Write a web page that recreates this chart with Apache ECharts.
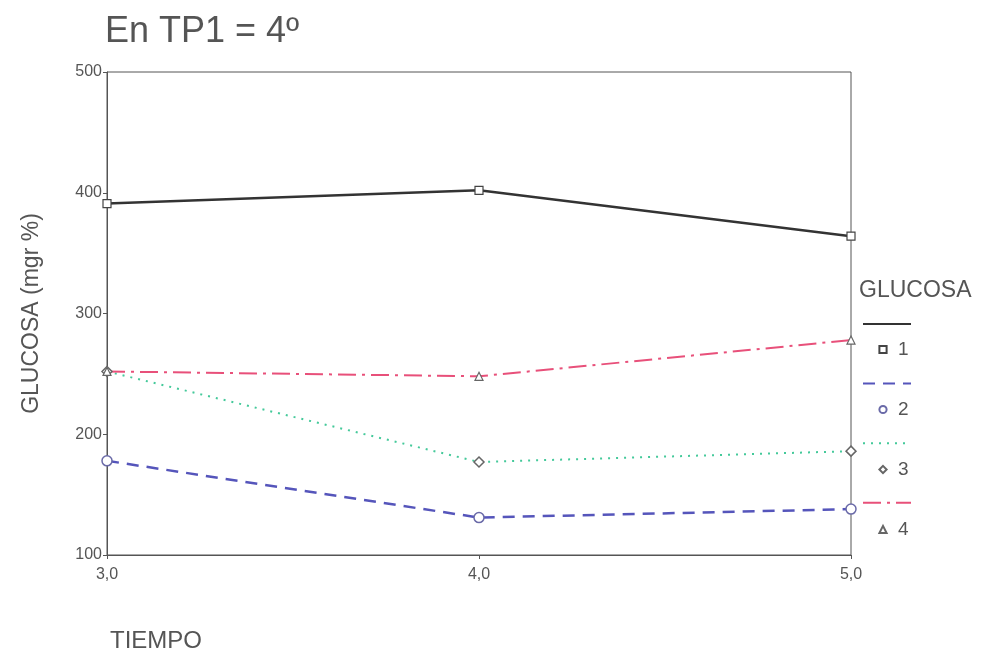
<!DOCTYPE html>
<html><head><meta charset="utf-8">
<script src="https://cdn.jsdelivr.net/npm/echarts@6/dist/echarts.min.js"></script>
<style>html,body{margin:0;padding:0;background:#fff}#c{width:985px;height:658px}</style>
</head><body><div id="c"></div>
<script>
var tiempo = [3, 4, 5];
var serie1 = [391, 402, 364];
var serie2 = [178, 131, 138];
var serie3 = [252, 177, 186];
var serie4 = [252, 248, 278];
var seriesNames = ['1', '2', '3', '4'];
var yTicks = [100, 200, 300, 400, 500];

function pairs(vals){ return tiempo.map(function(t,i){ return [t, vals[i]]; }); }

var chart = echarts.init(document.getElementById('c'));
var font = 'Liberation Sans, Arial, sans-serif';
chart.setOption({
  backgroundColor: '#fff',
  animation: false,
  title: [
    {text: 'En TP1 = 4º', left: 100, top: 9, textStyle: {fontFamily: font, fontSize: 36, fontWeight: 'normal', color: '#555'}},
    {text: 'TIEMPO', left: 105, top: 624, textStyle: {fontFamily: font, fontSize: 24, fontWeight: 'normal', color: '#555'}}
  ],
  legend: [
    {
      orient: 'vertical', left: 857, top: 312, itemGap: 46, itemWidth: 48, itemHeight: 14,
      data: seriesNames, formatter: function(){ return ''; },
      itemStyle: {opacity: 0},
      textStyle: {fontSize: 1}
    },
    {
      orient: 'vertical', left: 870, top: 335, itemGap: 41, itemWidth: 14, itemHeight: 9,
      data: seriesNames,
      lineStyle: {opacity: 0},
      textStyle: {fontFamily: font, fontSize: 19, color: '#555', padding: [16, 0, 0, 3]}
    }
  ],
  graphic: [
    {type: 'text', left: 859, top: 279, style: {text: 'GLUCOSA', font: '23px ' + font, fill: '#555'}}
  ],
  grid: {left: 107, right: 134, top: 72, bottom: 103, show: true, borderColor: '#555', borderWidth: 1},
  xAxis: {
    type: 'value', min: 3, max: 5, interval: 1,
    axisLine: {lineStyle: {color: '#555'}},
    axisTick: {show: true, length: 4, lineStyle: {color: '#555'}},
    splitLine: {show: false},
    axisLabel: {fontFamily: font, fontSize: 16, color: '#555', margin: 12,
      formatter: function(v){ return v.toFixed(1).replace('.', ','); }}
  },
  yAxis: {
    type: 'value', min: yTicks[0], max: yTicks[yTicks.length-1], interval: 100,
    name: 'GLUCOSA (mgr %)', nameLocation: 'middle', nameGap: 64,
    nameTextStyle: {fontFamily: font, fontSize: 23, color: '#555'},
    axisLine: {show: true, lineStyle: {color: '#555'}},
    axisTick: {show: true, length: 4, lineStyle: {color: '#555'}},
    splitLine: {show: false},
    axisLabel: {fontFamily: font, fontSize: 16, color: '#555', margin: 5}
  },
  series: [
    {name: seriesNames[0], type: 'line', data: pairs(serie1), symbol: 'rect', symbolSize: 8,
      itemStyle: {color: '#fff', borderColor: '#444', borderWidth: 1.2},
      lineStyle: {color: '#333', width: 2.5, type: 'solid'}, color: '#333'},
    {name: seriesNames[1], type: 'line', data: pairs(serie2), symbol: 'circle', symbolSize: 10,
      itemStyle: {color: '#fff', borderColor: '#6a6aa8', borderWidth: 1.5},
      lineStyle: {color: '#5555bb', width: 2.5, type: [12, 8]}, color: '#5555bb'},
    {name: seriesNames[2], type: 'line', data: pairs(serie3), symbol: 'diamond', symbolSize: 10,
      itemStyle: {color: '#fff', borderColor: '#666', borderWidth: 1.5},
      lineStyle: {color: '#44c99a', width: 2, type: [2, 6]}, color: '#44c99a'},
    {name: seriesNames[3], type: 'line', data: pairs(serie4), symbol: 'triangle', symbolSize: 8,
      itemStyle: {color: '#fff', borderColor: '#666', borderWidth: 1.2},
      lineStyle: {color: '#e8507a', width: 2, type: [18, 6, 3, 6]}, color: '#e8507a'}
  ]
});
</script>
</body></html>
